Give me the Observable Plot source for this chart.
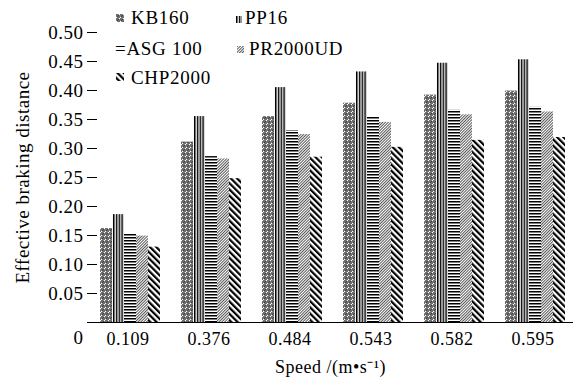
<!DOCTYPE html>
<html><head><meta charset="utf-8">
<script src="https://cdn.jsdelivr.net/npm/d3@7"></script>
<script src="https://cdn.jsdelivr.net/npm/@observablehq/plot@0.6"></script>
<style>
html,body{margin:0;padding:0;background:#fff;overflow:hidden}
#wrap{position:relative;width:574px;height:379px}
.lt{position:absolute;font-family:"Liberation Serif","Times New Roman",serif;font-size:19px;letter-spacing:0.7px;line-height:19px;color:#000;white-space:nowrap}
.li{position:absolute}
</style></head><body>
<svg width="0" height="0" style="position:absolute">
<defs>
<pattern id="p-kb" patternUnits="userSpaceOnUse" width="4" height="4">
  <rect width="4" height="4" fill="#fff"/>
  <circle cx="1" cy="1" r="1.25" fill="none" stroke="#000" stroke-width="0.9"/>
  <circle cx="3" cy="3" r="1.25" fill="none" stroke="#000" stroke-width="0.9"/>
</pattern>
<pattern id="p-pp" patternUnits="userSpaceOnUse" width="2.8" height="10">
  <rect width="2.8" height="10" fill="#fff"/>
  <rect width="1.5" height="10" fill="#000"/>
</pattern>
<pattern id="p-asg" patternUnits="userSpaceOnUse" width="10" height="3">
  <rect width="10" height="3" fill="#fff"/>
  <rect width="10" height="1.5" fill="#000"/>
</pattern>
<pattern id="p-pr" patternUnits="userSpaceOnUse" width="2" height="10" patternTransform="rotate(45)">
  <rect width="2" height="10" fill="#fff"/>
  <rect width="0.9" height="10" fill="#444"/>
</pattern>
<pattern id="p-chp" patternUnits="userSpaceOnUse" width="4.4" height="10" patternTransform="rotate(-45)">
  <rect width="4.4" height="10" fill="#fff"/>
  <rect width="2.2" height="10" fill="#000"/>
</pattern>
</defs>
</svg>
<div id="wrap"></div>
<script>
// ---- data ----
const speeds = ["0.109", "0.376", "0.484", "0.543", "0.582", "0.595"];
const seriesNames = ["KB160", "PP16", "ASG 100", "PR2000UD", "CHP2000"];
const kb160    = [0.162, 0.311, 0.355, 0.378, 0.392, 0.399];
const pp16     = [0.186, 0.355, 0.405, 0.432, 0.447, 0.453];
const asg100   = [0.152, 0.286, 0.331, 0.354, 0.366, 0.371];
const pr2000ud = [0.149, 0.282, 0.324, 0.345, 0.358, 0.363];
const chp2000  = [0.130, 0.248, 0.285, 0.302, 0.314, 0.319];
const yTicks = [0.05, 0.10, 0.15, 0.20, 0.25, 0.30, 0.35, 0.40, 0.45, 0.50];
const patternUrls = ["url(#p-kb)", "url(#p-pp)", "url(#p-asg)", "url(#p-pr)", "url(#p-chp)"];

const valuesBySeries = [kb160, pp16, asg100, pr2000ud, chp2000];
const data = seriesNames.flatMap((s, j) =>
  valuesBySeries[j].map((v, i) => ({speed: speeds[i], series: s, value: v})));

const W = 574, H = 379, mL = 86, mR = 0;
const groupW = (W - mL - mR) / speeds.length;

const chart = Plot.plot({
  width: W, height: H,
  marginLeft: mL, marginRight: mR, marginTop: 32, marginBottom: 57,
  style: {fontFamily: '"Liberation Serif", "Times New Roman", serif', fontSize: "18px", color: "#000", background: "#fff", letterSpacing: "0.5px", overflow: "visible"},
  fx: {domain: speeds, padding: 0},
  x: {domain: seriesNames, paddingInner: 0, paddingOuter: 0.628, align: 0.612, axis: null},
  y: {domain: [0, 0.5]},
  color: {domain: seriesNames, range: patternUrls},
  marks: [
    Plot.barY(data, {fx: "speed", x: "series", y: "value", fill: "series"}),
    Plot.ruleY([0], {stroke: "#000", strokeWidth: 1.2}),
    Plot.ruleX([speeds[0]], {fx: d => d, y1: 0, y2: 0.5, dx: -groupW / 2, stroke: "#000", strokeWidth: 1.2}),
    Plot.ruleX(speeds.slice(1), {fx: d => d, y1: 0, y2: 0.016, dx: -groupW / 2, stroke: "#000"}),
    Plot.axisY({ticks: yTicks, tickFormat: d3.format(".2f"), tickSize: -10, tickPadding: 14,
      label: "Effective braking distance", labelAnchor: "center", labelOffset: 72, labelArrow: "none", fontSize: 19}),
    Plot.axisY({ticks: [0], tickFormat: () => "0", tickSize: 0, tickPadding: 4, dy: 15, label: null, fontSize: 19}),
    Plot.axisFx({anchor: "bottom", tickSize: 0, tickPadding: 10,
      label: "Speed /(m•s⁻¹)", labelAnchor: "center", labelOffset: 50, labelArrow: "none"})
  ]
});
const wrap = document.getElementById("wrap");
wrap.appendChild(chart);

// ---- legend (overlay) ----
const legendItems = [
  {name: "KB160", icon: patternUrls[0], ix: 116, iy: 14, iw: 8, ih: 8, tx: 131, ty: 8},
  {name: "PP16", icon: patternUrls[1], ix: 236, iy: 16, iw: 6, ih: 7, tx: 245, ty: 8},
  {name: "=ASG 100", icon: null, tx: 115, ty: 39},
  {name: "PR2000UD", icon: patternUrls[3], ix: 237, iy: 46, iw: 7, ih: 7, tx: 249, ty: 39},
  {name: "CHP2000", icon: patternUrls[4], ix: 116, iy: 73, iw: 8, ih: 8, tx: 131, ty: 68}
];
for (const it of legendItems) {
  if (it.icon) {
    const s = document.createElementNS("http://www.w3.org/2000/svg", "svg");
    s.setAttribute("class", "li");
    s.setAttribute("width", it.iw); s.setAttribute("height", it.ih);
    s.style.left = it.ix + "px"; s.style.top = it.iy + "px";
    const r = document.createElementNS("http://www.w3.org/2000/svg", "rect");
    r.setAttribute("width", it.iw); r.setAttribute("height", it.ih); r.setAttribute("fill", it.icon);
    s.appendChild(r);
    wrap.appendChild(s);
  }
  const t = document.createElement("div");
  t.className = "lt";
  t.textContent = it.name;
  t.style.left = it.tx + "px"; t.style.top = it.ty + "px";
  wrap.appendChild(t);
}
</script>
</body></html>
